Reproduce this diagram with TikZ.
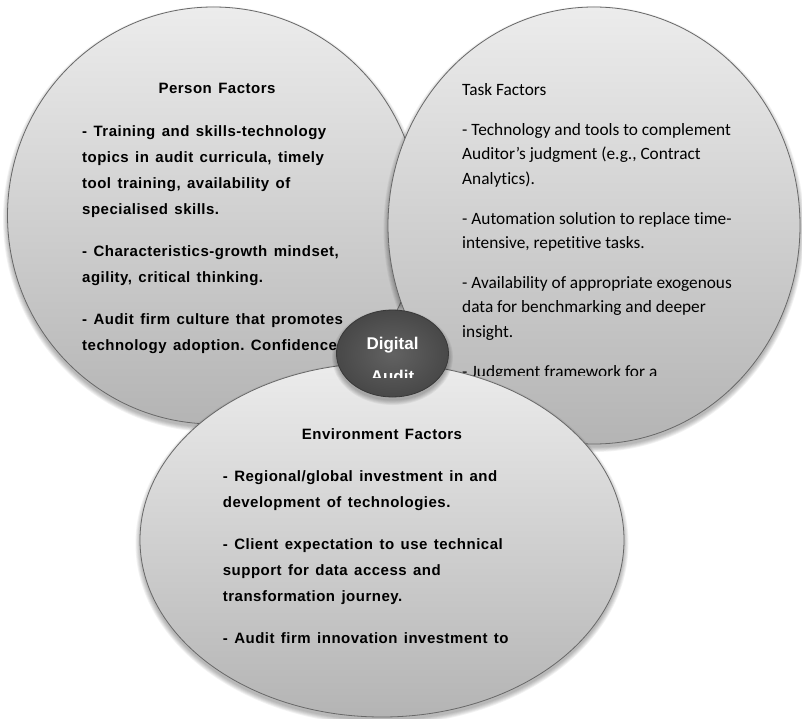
\documentclass[tikz,border=0pt]{standalone}
\usepackage{fontspec}
\setmainfont{Liberation Sans}
\newfontfamily\factorfont[LetterSpace=3.3]{Liberation Sans}
\newfontfamily\taskfont[Ligatures=NoCommon]{Carlito}
\usetikzlibrary{shapes.geometric}

\definecolor{shadetop}{HTML}{ECECEC}
\definecolor{shadebot}{HTML}{B4B4B4}
\definecolor{rimgray}{HTML}{686868}
\definecolor{hubin}{HTML}{626262}
\definecolor{hubout}{HTML}{484848}
\definecolor{hubedge}{HTML}{383838}

% soft shadow under an elliptic shape: centre x, centre y, width, height
\newcommand\castshadow[4]{%
  \foreach \k in {0,...,5}{%
    \fill[black, opacity=0.05] (#1,#2+3.5) ellipse ({#3/2+\k*0.9} and {#4/2+\k*0.9});}}

% bold Arial-style text, slightly tracked, as in the factor boxes
\newcommand\factorsetup{\factorfont\bfseries\fontsize{15}{26}\selectfont
  \frenchspacing\spaceskip=6.4pt plus 2pt minus 1pt\relax}

\tikzset{
  factorshape/.style={ellipse, draw=rimgray, line width=0.8pt,
    top color=shadetop, bottom color=shadebot, inner sep=0pt, outer sep=0pt},
  boldhead/.style={font=\factorsetup, inner sep=0pt, anchor=base},
  boldbody/.style={font=\factorsetup, inner sep=0pt, anchor=north west, align=left},
  taskhead/.style={font=\taskfont\fontsize{17.3}{24.6}\selectfont,
    inner sep=0pt, anchor=base west},
  taskbody/.style={font=\taskfont\fontsize{17.3}{24.6}\selectfont,
    inner sep=0pt, anchor=north west, align=left},
  hubshape/.style={ellipse, draw=hubedge, line width=0.8pt,
    inner color=hubin, outer color=hubout, inner sep=0pt},
  hublabel/.style={font=\bfseries\fontsize{17}{20}\selectfont, text=white,
    inner sep=0pt, anchor=base},
}

\begin{document}
\begin{tikzpicture}[x=1pt, y=-1pt]
\useasboundingbox[fill=white] (0,0) rectangle (802,719);

% Person factors
\castshadow{213.5}{215.5}{412}{417}
\node[factorshape, minimum width=412pt, minimum height=417pt] (person) at (213.5,215.5) {};
\node[boldhead] (personhead) at (217,94) {Person Factors};
\begin{scope}
  \clip (60,100) rectangle (360,360);
  \node[boldbody] (personbody) at (82,118.3) {\strut- Training and skills-technology\\
    topics in audit curricula, timely\\
    tool training, availability of\\
    specialised skills.\\[16pt]
    - Characteristics-growth mindset,\\
    agility, critical thinking.\\[16pt]
    - Audit firm culture that promotes\\
    technology adoption. Confidence};
\end{scope}

% Task factors
\castshadow{594}{225.5}{412}{437}
\node[factorshape, minimum width=412pt, minimum height=437pt] (task) at (594,225.5) {};
\node[taskhead] (taskhead) at (462,96) {Task Factors};
\begin{scope}
  \clip (440,100) rectangle (780,375);
  \node[taskbody] (taskbody) at (462,117.8) {\strut- Technology and tools to complement\\
    Auditor’s judgment (e.g., Contract\\
    Analytics).\\[15pt]
    - Automation solution to replace time-\\
    intensive, repetitive tasks.\\[15pt]
    - Availability of appropriate exogenous\\
    data for benchmarking and deeper\\
    insight.\\[15pt]
    - Judgment framework for a};
\end{scope}

% Environment factors
\castshadow{382}{540}{484}{354}
\node[factorshape, minimum width=484pt, minimum height=354pt] (env) at (382,540) {};
\node[boldhead] (envhead) at (382,439) {Environment Factors};
\begin{scope}
  \clip (200,450) rectangle (560,661);
  \node[boldbody] (envbody) at (222.7,462.8) {\strut- Regional/global investment in and\\
    development of technologies.\\[16pt]
    - Client expectation to use technical\\
    support for data access and\\
    transformation journey.\\[16pt]
    - Audit firm innovation investment to};
\end{scope}

% Central hub
\castshadow{392.5}{353.5}{112}{87}
\node[hubshape, minimum width=112pt, minimum height=87pt] (hub) at (392.5,353.5) {};
\begin{scope}
  \clip (340,315) rectangle (446,377);
  \node[hublabel] (hubtop) at (392.5,349) {Digital};
  \node[hublabel] (hubbottom) at (392.5,382) {Audit};
\end{scope}
\end{tikzpicture}
\end{document}
